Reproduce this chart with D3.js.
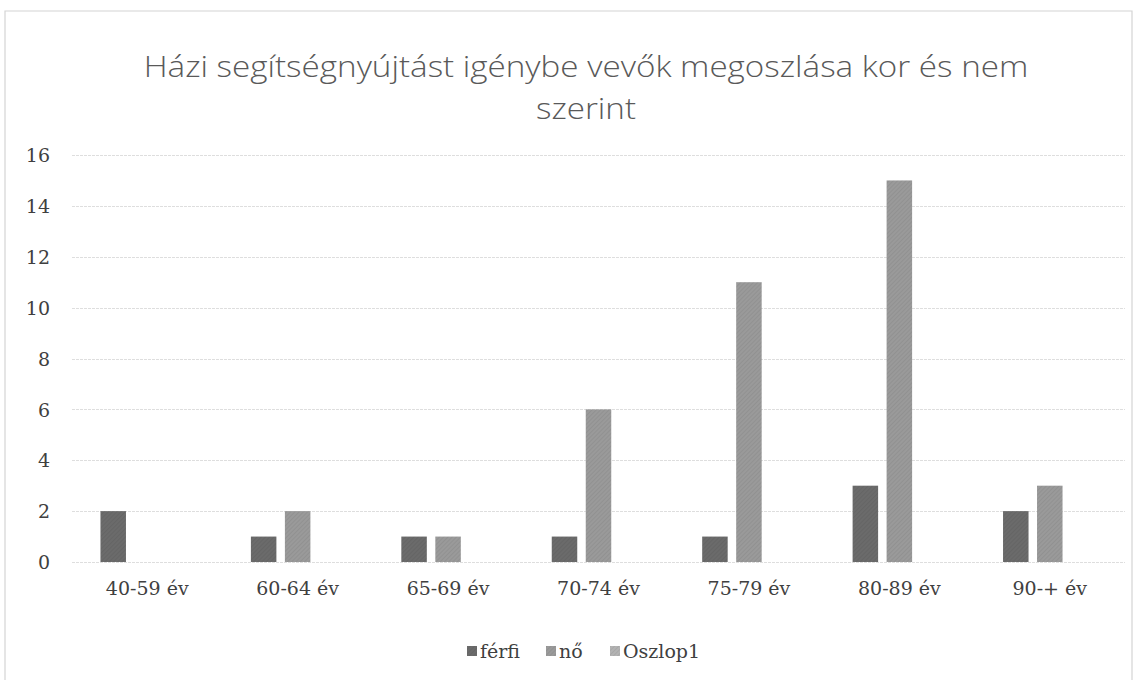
<!DOCTYPE html>
<html>
<head>
<meta charset="utf-8">
<script src="https://cdn.jsdelivr.net/npm/d3@7"></script>
<style>
  html, body { margin: 0; padding: 0; background: #fff; }
  svg { display: block; }
</style>
</head>
<body>
<script>
const categories = ["40-59 év", "60-64 év", "65-69 év", "70-74 év", "75-79 év", "80-89 év", "90-+ év"];
const seriesNames = ["férfi", "nő", "Oszlop1"];
const ferfi = [2, 1, 1, 1, 1, 3, 2];
const no = [0, 2, 1, 6, 11, 15, 3];
const oszlop1 = [0, 0, 0, 0, 0, 0, 0];
const yTicks = [0, 2, 4, 6, 8, 10, 12, 14, 16];
const titleLines = ["Házi segítségnyújtást igénybe vevők megoszlása kor és nem", "szerint"];

const seriesValues = [ferfi, no, oszlop1];
const colors = ["#6b6b6b", "#9a9a9a", "#b3b3b3"];

const W = 1137, H = 680;
const svg = d3.select("body").append("svg").attr("width", W).attr("height", H);

// defs: subtle hatch texture like the scan
const defs = svg.append("defs");
colors.forEach((c, i) => {
  const p = defs.append("pattern").attr("id", "pat" + i).attr("patternUnits", "userSpaceOnUse")
    .attr("width", 3).attr("height", 3).attr("patternTransform", "rotate(45)");
  p.append("rect").attr("width", 3).attr("height", 3).attr("fill", c);
  p.append("line").attr("x1", 0).attr("y1", 0).attr("x2", 0).attr("y2", 3)
    .attr("stroke", d3.color(c).darker(0.35)).attr("stroke-width", 1);
});

// chart border
svg.append("path").attr("d", `M5,${H} V11 H1132 V${H}`).attr("fill", "none")
  .attr("stroke", "#d4d4d4").attr("stroke-width", 1.2);

// title
const title = svg.append("g");
const tl = title.selectAll("text").data(titleLines).enter().append("text")
  .attr("x", 0).attr("y", (d, i) => 77 + i * 42)
  .attr("text-anchor", "middle")
  .attr("font-family", "'Open Sans', 'Noto Sans', sans-serif")
  .attr("font-weight", 300)
  .attr("font-size", 29).attr("fill", "#595959").text(d => d);
const w0 = tl.nodes()[0].getComputedTextLength();
const sx = 885 / w0;
title.attr("transform", `translate(586,0) scale(${sx},1)`);

const plot = { left: 72, right: 1125, top: 155, bottom: 562 };
const x = d3.scaleBand().domain(categories).range([plot.left, plot.right]).paddingInner(0).paddingOuter(0);
const y = d3.scaleLinear().domain([0, 16]).range([plot.bottom, plot.top]);

const barW = 25.5, step = 34;
const groupW = barW + step * 2;
const xs = d3.scaleLinear().domain([0, 2]).range([-groupW / 2, -groupW / 2 + step * 2]);

// gridlines
svg.append("g").selectAll("line").data(yTicks).enter().append("line")
  .attr("x1", plot.left).attr("x2", plot.right)
  .attr("y1", d => Math.round(y(d)) + 0.5).attr("y2", d => Math.round(y(d)) + 0.5)
  .attr("stroke", "#dedede").attr("stroke-width", 1).attr("stroke-dasharray", "3,1");

// y axis
const yAxis = d3.axisLeft(y).tickValues(yTicks).tickSize(0).tickPadding(0);
const ya = svg.append("g").attr("transform", `translate(50,0)`).call(yAxis);
ya.select(".domain").remove();
ya.selectAll("text").attr("font-family", "'DejaVu Serif', serif").attr("font-size", 19)
  .attr("fill", "#404040").attr("dy", "0.35em");

// x axis
const xAxis = d3.axisBottom(x).tickSize(0).tickPadding(0);
const xa = svg.append("g").attr("transform", `translate(0,${plot.bottom})`).call(xAxis);
xa.select(".domain").remove();
xa.selectAll("text").attr("font-family", "'DejaVu Serif', serif").attr("font-size", 19)
  .attr("fill", "#404040").attr("y", 26).attr("dy", "0.35em");

// bars
seriesValues.forEach((vals, si) => {
  svg.append("g").selectAll("rect").data(vals).enter().append("rect")
    .attr("x", (d, i) => x(categories[i]) + x.bandwidth() / 2 + xs(si))
    .attr("y", d => y(d))
    .attr("width", barW)
    .attr("height", d => y(0) - y(d))
    .attr("fill", `url(#pat${si})`);
});

// legend
const legendX = [467, 546, 610];
const lg = svg.append("g");
seriesNames.forEach((n, i) => {
  lg.append("rect").attr("x", legendX[i]).attr("y", 646).attr("width", 10).attr("height", 10)
    .attr("fill", `url(#pat${i})`);
  lg.append("text").attr("x", legendX[i] + 13).attr("y", 651).attr("dy", "0.35em")
    .attr("font-family", "'DejaVu Serif', serif").attr("font-size", 19).attr("fill", "#404040").text(n);
});
</script>
</body>
</html>
